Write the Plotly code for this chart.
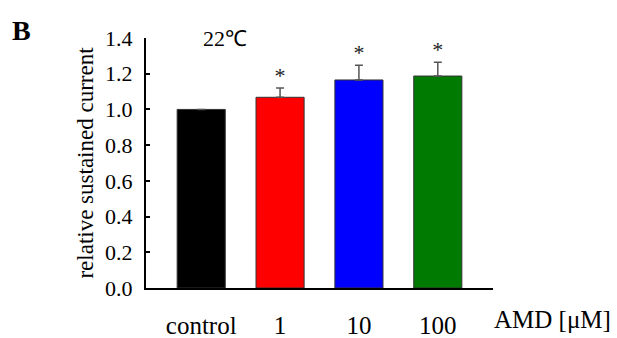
import plotly.graph_objects as go

categories = ["control", "1", "10", "100"]
values = [1.0, 1.068, 1.165, 1.187]
errors = [0.0, 0.052, 0.082, 0.077]
colors = ["#000000", "#ff0000", "#0000ff", "#007a00"]
marks = ["", "*", "*", "*"]
y_ticks = [0.0, 0.2, 0.4, 0.6, 0.8, 1.0, 1.2, 1.4]

FONT = "Liberation Serif"

fig = go.Figure()
fig.add_trace(go.Bar(
    x=categories, y=values,
    marker=dict(color=colors, line=dict(color="#333333", width=1)),
    width=0.61,
    error_y=dict(type="data", symmetric=False, array=errors,
                 arrayminus=[0] * len(errors), color="#555555",
                 thickness=1.5, width=4),
    showlegend=False, hoverinfo="skip",
))
fig.add_trace(go.Scatter(
    x=categories, y=[v + e for v, e in zip(values, errors)],
    mode="text", text=marks, textposition="top center",
    textfont=dict(family=FONT, size=22, color="#222222"),
    showlegend=False, hoverinfo="skip",
))

fig.update_layout(
    width=617, height=338,
    margin=dict(l=146, r=124, t=38, b=50, autoexpand=False),
    paper_bgcolor="white", plot_bgcolor="white",
    font=dict(family=FONT, color="black"),
    bargap=0.39,
    xaxis=dict(
        range=[-0.70, 3.70], showline=True, linecolor="black", linewidth=2,
        ticks="", tickfont=dict(size=25, family=FONT, color="black"),
        ticklabelstandoff=14, showgrid=False, zeroline=False, automargin=False,
    ),
    yaxis=dict(
        range=[0, 1.4], tickvals=y_ticks,
        ticktext=[f"{t:.1f}" for t in y_ticks],
        showline=True, linecolor="black", linewidth=2,
        ticks="inside", ticklen=4, tickwidth=1.5, tickcolor="black",
        tickfont=dict(size=22, family=FONT, color="black"),
        ticklabelstandoff=7,
        showgrid=False, zeroline=False, automargin=False,
        title=dict(text="relative sustained current", standoff=5,
                   font=dict(size=23, family=FONT, color="black")),
    ),
    annotations=[
        dict(text="22℃", xref="paper", yref="paper", x=(225 - 146) / 347, y=1.0,
             xanchor="center", yanchor="middle", showarrow=False,
             font=dict(size=22, family=FONT, color="black")),
        dict(text="<b>B</b>", xref="paper", yref="paper", x=(10 - 146) / 347,
             y=(288 - 31) / 250, xanchor="left", yanchor="middle", showarrow=False,
             font=dict(size=28, family=FONT, color="black")),
        dict(text="AMD [μM]", xref="paper", yref="paper", x=(613 - 146) / 347,
             y=-(319 - 288) / 250, xanchor="right", yanchor="middle", showarrow=False,
             font=dict(size=25, family=FONT, color="black")),
    ],
)

fig.write_html("out.html", config={"displayModeBar": False},
               post_script="document.body.style.margin='0';document.body.style.overflow='hidden';")
